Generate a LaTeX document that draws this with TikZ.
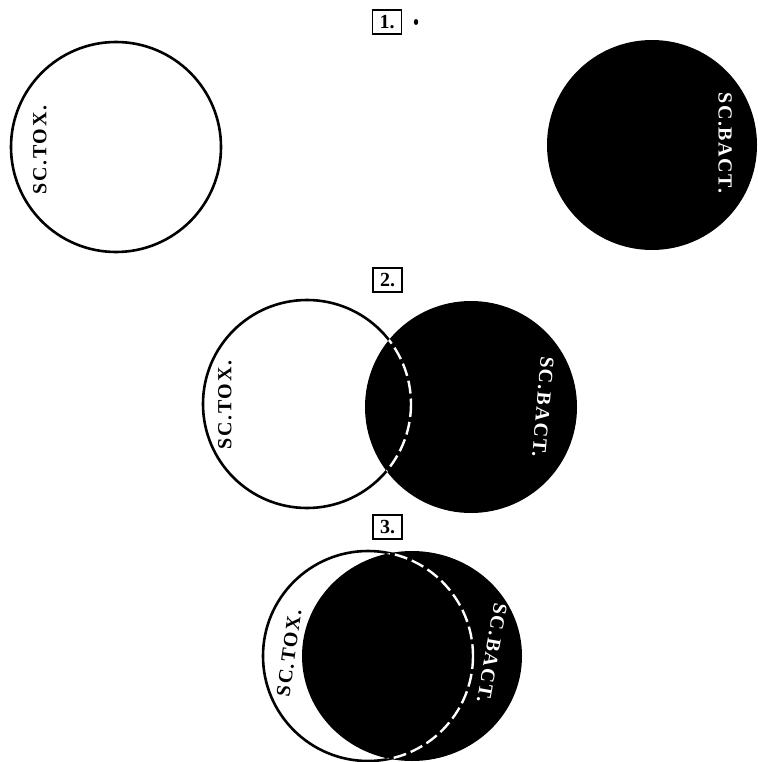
\documentclass[tikz,border=0pt]{standalone}
\usepackage{fontspec}
\newfontfamily\platefont[LetterSpace=8]{Liberation Serif}
\newfontfamily\numfont{Liberation Serif}
\begin{document}
\begin{tikzpicture}[x=1pt, y=-1pt,
  lab/.style={font=\platefont\bfseries\fontsize{20}{20}\selectfont, inner sep=0pt},
  numbox/.style={draw, line width=1.3pt, minimum width=29pt, minimum height=24pt,
    inner sep=0pt, font=\numfont\bfseries\fontsize{20}{20}\selectfont},
  rim/.style={line width=2.6pt},
  seam/.style={white, line width=2.4pt, dash pattern=on 13pt off 5pt}]
\useasboundingbox (0,0) rectangle (757,762);
% 1.
\node[numbox] (n1) at (387,22) {1.};
\fill (416,22) ellipse (2.2 and 3);
\draw[rim, fill=white] (116,147) circle (105);
\fill (652,145) circle (105);
\node[lab, rotate=90] (tox1) at (40,150) {SC.TOX.};
\node[lab, white, rotate=-90] (bact1) at (725,143) {SC.BACT.};
% 2.
\node[numbox] (n2) at (387.5,280) {2.};
\draw[rim, fill=white] (307,404) circle (104);
\fill (471,407) circle (106);
\begin{scope}
  \clip (471,407) circle (106);
  \draw[seam] (307,404) circle (104);
\end{scope}
\node[lab, rotate=90] (tox2) at (225,405) {SC.TOX.};
\node[lab, white, rotate=-95] (bact2) at (543,407) {SC.BACT.};
% 3.
\node[numbox] (n3) at (387.5,527) {3.};
\draw[rim, fill=white] (368,656) circle (105);
\fill (412,656) ellipse (110 and 105);
\begin{scope}
  \clip (412,656) ellipse (110 and 105);
  \draw[seam] (368,656) circle (105);
\end{scope}
\node[lab, rotate=82] (tox3) at (289,653) {SC.TOX.};
\node[lab, white, rotate=-100] (bact3) at (492,653) {SC.BACT.};
\end{tikzpicture}
\end{document}
